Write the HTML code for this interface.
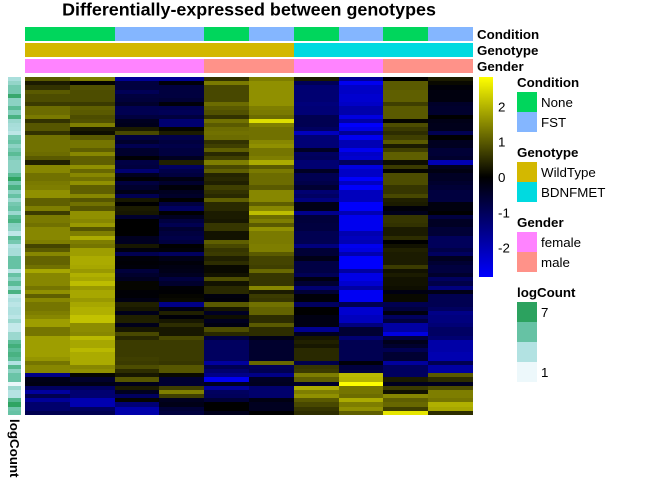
<!DOCTYPE html>
<html><head><meta charset="utf-8"><title>Differentially-expressed between genotypes</title>
<style>
html,body{margin:0;padding:0;background:#fff;width:672px;height:480px;overflow:hidden}
svg{display:block}
text{font-family:"Liberation Sans",sans-serif;font-size:13.33px;fill:#000}
.b{font-weight:bold}
</style></head>
<body>
<svg id="chart" width="672" height="480" viewBox="0 0 672 480" xmlns="http://www.w3.org/2000/svg">
<defs><linearGradient id="cg" x1="0" y1="0" x2="0" y2="1"><stop offset="0" stop-color="#ffff00"/><stop offset=".5" stop-color="#000"/><stop offset="1" stop-color="#0000ff"/></linearGradient></defs>
<text class="b" x="249" y="15.5" text-anchor="middle" style="font-size:17.9px">Differentially-expressed between genotypes</text>
<g id="annotations"></g>
<text class="b" x="477" y="39">Condition</text>
<text class="b" x="477" y="55">Genotype</text>
<text class="b" x="477" y="71">Gender</text>
<g id="logstrip"></g>
<g id="cells" shape-rendering="crispEdges"></g>
<text class="b" transform="translate(10,419) rotate(90)" x="0" y="0">logCount</text>
<rect x="479" y="77" width="14" height="200" fill="url(#cg)"/>
<g id="cbticks"></g>
<g>
<text class="b" x="517" y="87">Condition</text>
<rect x="517" y="92" width="20" height="20" fill="#00d65c"/>
<rect x="517" y="112" width="20" height="20" fill="#84b6ff"/>
<text x="541" y="107">None</text>
<text x="541" y="127">FST</text>
</g>
<g>
<text class="b" x="517" y="157">Genotype</text>
<rect x="517" y="162" width="20" height="20" fill="#d3b800"/>
<rect x="517" y="182" width="20" height="20" fill="#00dae0"/>
<text x="541" y="177">WildType</text>
<text x="541" y="197">BDNFMET</text>
</g>
<g>
<text class="b" x="517" y="227">Gender</text>
<rect x="517" y="232" width="20" height="20" fill="#ff83ff"/>
<rect x="517" y="252" width="20" height="20" fill="#ff9289"/>
<text x="541" y="247">female</text>
<text x="541" y="267">male</text>
</g>
<g>
<text class="b" x="517" y="297">logCount</text>
<rect x="517" y="302" width="20" height="20" fill="#2ca25f"/>
<rect x="517" y="322" width="20" height="20" fill="#66c2a4"/>
<rect x="517" y="342" width="20" height="20" fill="#b2e2e2"/>
<rect x="517" y="362" width="20" height="20" fill="#edf8fb"/>
<text x="541" y="317">7</text>
<text x="541" y="377">1</text>
</g>
</svg>
<script>
const conditions = ['None','None','FST','FST','None','FST','None','FST','None','FST'];
const genotypes = ['WildType','WildType','WildType','WildType','WildType','WildType','BDNFMET','BDNFMET','BDNFMET','BDNFMET'];
const genders = ['female','female','female','female','male','male','female','female','male','male'];
const colorbarTicks = [2,1,0,-1,-2];
const sample1 = [1.0,.3,.55,1.0,.85,.85,.65,1.2,1.2,1.35,
.55,.95,.95,.55,1.25,1.25,1.25,1.25,1.2,1.0,
.35,1.5,1.5,1.25,1.25,1.35,1.4,1.6,1.6,1.05,
1.05,1.4,.65,1.35,1.35,1.25,1.5,1.5,1.5,1.4,
.75,1.0,1.5,1.1,1.1,1.25,1.85,1.5,1.5,1.5,
1.3,1.6,1.05,1.5,1.3,1.3,1.4,1.5,1.75,1.75,
1.3,1.3,1.75,1.75,1.75,1.75,1.75,1.65,1.3,1.5,
1.5,-1.5,-.25,-.2,-1.05,-1.75,-.9,-1.7,-1.2,-1.2,-.9];
const sample2 = [1.4,.05,.9,.85,.85,.85,.65,1.05,1.0,.85,
.9,1.4,.3,.15,1.0,1.3,1.3,1.05,1.5,1.05,
1.05,1.6,1.15,1.5,1.25,1.6,1.05,1.05,1.5,.95,
1.25,.95,1.6,1.6,1.5,1.7,.95,1.4,1.9,1.4,
1.3,1.75,1.75,1.9,1.9,1.85,1.7,1.95,1.85,2.1,
1.7,1.85,1.85,1.7,1.85,1.95,1.95,2.15,2.15,1.55,
1.55,1.5,2.05,1.85,1.85,2.05,1.9,1.9,1.9,1.5,
1.6,.05,-.5,-.25,-1.05,-1.25,-1.25,-1.95,-1.95,-1.05,-.9];
const sample3 = [-1.65,-.7,-.7,-.95,-.7,-.65,-.5,-.9,-.9,-.7,
-.35,-.3,.3,.8,-.7,-.5,-.9,-.5,-.5,-.05,
-.75,-.7,-1.25,-.35,-.05,-.7,-.5,-.25,-.9,.25,
0,.3,.25,-.5,0,0,0,0,-.35,-.35,
.25,-.15,-.9,-.1,-.05,-.1,-.65,-.5,-.35,.05,
.05,-.05,-.05,-.2,.35,.25,-.3,.35,.35,-.3,
.25,.8,.45,.65,.65,.65,.65,.7,.65,.85,
.5,.25,.95,-.3,.3,-.35,-1.05,.05,-1.3,-1.9,-1.9];
const sample4 = [-1.65,-.1,-.7,-.7,-.7,-.6,-.1,-.9,-.95,-.7,
-1.25,-1.25,.05,.3,-.8,-.7,-.8,-.7,-.7,-.35,
.35,-1.05,-.8,-.7,-.2,-.5,-.1,-.35,-.45,0,
-.7,-1.05,0,-.35,-.7,-.9,-.55,-.7,-.8,-.7,
0,-.1,-1.05,-.25,-.1,-.2,-.25,-.35,-.7,-.5,
-.05,-.03,.05,.1,-1.5,-.2,.35,-.1,.25,.5,
.25,.25,.8,.65,.65,.65,.65,.65,.6,.95,
.95,.1,-.55,-.55,.7,1.4,.7,-.35,-.25,-.6,-.7];
const sample5 = [.55,1.35,.8,.8,.8,.8,1.2,1.0,.9,.55,
1.25,1.0,1.2,1.25,1.2,.55,.7,1.05,.45,.7,
1.4,.8,1.05,.4,.45,.35,.7,.55,.45,1.05,
.45,.45,.3,.3,.25,.6,.6,.2,.2,1.05,
.8,.6,.65,.35,.5,.1,.1,.2,.85,.2,
.45,.45,-.15,-.1,1.0,.25,-.4,.15,-.35,-.2,
.85,.45,-.7,-1.05,-1.05,-1.05,-1.05,-1.05,-1.75,-.9,
-1.2,-1.5,-2.65,-.35,-1.75,-1.05,-1.0,-.6,0,0,-.3];
const sample6 = [1.4,1.6,1.6,1.6,1.6,1.6,1.6,1.4,1.35,1.2,
2.45,1.4,1.25,1.25,1.25,1.5,1.6,1.3,1.3,1.4,
1.9,1.0,1.35,1.2,1.2,1.2,1.0,1.5,1.5,1.5,
1.05,1.5,2.1,1.2,1.4,1.0,1.6,1.35,1.35,1.35,
1.4,1.4,1.0,.75,.75,.7,1.15,.6,.6,.6,
1.5,.3,.65,.6,1.25,1.1,1.1,.5,.5,1.0,
.5,.5,-.25,-.5,-.5,-.5,-.5,-.5,1.15,-.95,
-.9,-1.5,-.4,-.35,-1.2,-1.2,-1.2,-.2,-.35,-.35,0];
const sample7 = [.3,-.95,-1.25,-1.25,-1.25,-1.25,-1.35,-1.3,-1.3,-.9,
-.9,-.9,-1.05,-2.1,-1.3,-1.3,-1.3,-.4,-1.05,-1.0,
-1.25,-1.25,-.4,-.9,-.9,-.8,-.55,-1.25,-1.1,-1.4,
-.25,-.25,-1.55,-.65,-.65,-.7,-.7,-.9,-.9,-.9,
-1.4,-.6,-.6,-.25,-.75,-.75,-.75,-.95,-.2,-.55,
-1.25,-.6,-.1,-.1,-1.05,0,0,-.2,-.2,-.2,
-1.6,-.35,.25,.35,.25,.45,.45,.45,-.85,.6,
.65,1.4,1.05,-.5,1.9,1.4,1.6,1.0,.8,.6,.5];
const sample8 = [-1.65,-2.65,-2.2,-2.2,-2.3,-2.3,-2.2,-1.9,-1.9,-2.5,
-1.85,-2.8,-2.55,-1.65,-2.65,-2.0,-2.0,-2.65,-2.2,-2.3,
-1.05,-2.5,-2.2,-2.2,-2.8,-2.15,-2.8,-2.1,-2.1,-2.1,
-2.8,-2.8,-2.0,-2.65,-2.65,-2.65,-2.65,-1.95,-2.1,-2.0,
-2.65,-2.5,-1.95,-2.8,-2.8,-2.8,-1.8,-2.55,-2.55,-2.3,
-1.8,-2.7,-2.7,-2.7,-.9,-2.3,-2.3,-2.1,-2.1,-1.4,
-.55,-.55,-1.25,-.9,-.9,-.9,-.9,-.9,-.1,-.7,
-.7,2.05,2.0,2.8,1.3,1.3,1.2,1.9,1.4,1.6,1.05];
const sample9 = [0,1.0,1.0,1.05,1.05,1.05,.7,1.0,1.0,1.0,
.05,.85,.65,.5,.7,1.0,.3,.7,1.05,1.05,
.15,.65,.05,.85,.85,.85,.6,.6,.8,.35,
.3,-.1,-.3,.6,.6,.55,.3,.3,.5,0,
.2,.35,.3,.3,.3,.65,.2,.3,.2,.2,
.15,-.2,.1,.1,-.9,-.7,-.15,-1.05,-.7,-1.8,
-1.8,-2.5,-.7,-.3,-.5,-.9,-.55,-.55,-1.75,-1.05,
-1.05,-1.05,.3,-.35,.65,.2,1.5,1.05,1.15,.7,2.55];
const sample10 = [.3,.1,-.1,-.15,-.15,-.15,-.45,-.5,-.5,0,
-.25,-.3,-.3,-.9,0,-.35,-.35,-.6,-.6,-.5,
-2.0,-.35,-.2,-.4,-.4,-.5,-.6,-.7,-.7,-.7,
-.15,-.15,0,-.7,-.4,-.4,-.6,-.6,-1.0,-1.0,
-1.0,-.8,-1.05,-.35,-.55,-.7,-.7,-.5,-1.05,-.8,
-1.4,-.25,-.9,-.9,-.9,-1.05,-1.5,-1.4,-1.4,-1.3,
-1.1,-1.1,-1.25,-1.85,-1.85,-1.85,-1.95,-1.95,-.9,-1.8,
-1.8,1.0,.5,-.35,.85,1.4,1.4,1.3,1.95,1.85,.5];
const logCounts = [3.2,3.8,4.6,4.6,6.6,4,4,5.4,4.2,6,
3.6,3.3,3.2,2.6,4.6,5,4,4.6,5.4,4.4,
4,4,4,5.4,6.9,4.6,6,4,5,3.6,
4.6,5,3.6,5.4,6,4.1,4,2.6,5.4,4.6,
3,3.3,3.3,5,5,5,2.7,5,4.1,5.4,
3.6,6,2.5,3.1,2.7,3.1,3.1,2.7,3.6,2.4,
2.4,3.6,3.6,5.4,6.2,5.4,6,5.4,3,5.6,
4,4.9,4.9,1.1,3.6,2.9,2.9,5.6,6.9,4.8,5];

const samples = [sample1,sample2,sample3,sample4,sample5,sample6,sample7,sample8,sample9,sample10];
const NS = 'http://www.w3.org/2000/svg';
const heatLeft = 25, heatRight = 473, heatTop = 77, heatBottom = 415, zMax = 2.83;
const rowCount = logCounts.length;
const xScale = c => heatLeft + (heatRight - heatLeft) * c / samples.length;
const yScale = r => heatTop + (heatBottom - heatTop) * r / rowCount;
const cbY = v => 177 - v * (200 / (2 * zMax));
function heatColor(v){
  const t = Math.min(1, Math.abs(v) / zMax), b = Math.round(t * 255);
  return v >= 0 ? `rgb(${b},${b},0)` : `rgb(0,0,${b})`;
}
const bugnStops = [[237,248,251],[178,226,226],[102,194,164],[44,162,95]];
function logColor(v){
  const p = Math.max(0, Math.min(2.999, (v - 1) / 2)), i = Math.floor(p), f = p - i;
  const a = bugnStops[i], b = bugnStops[i + 1];
  return `rgb(${a.map((x, k) => Math.round(x + (b[k] - x) * f)).join(',')})`;
}
function rect(parent, x0, y0, x1, y1, fill){
  const el = document.createElementNS(NS, 'rect');
  el.setAttribute('x', Math.round(x0));
  el.setAttribute('y', Math.round(y0));
  el.setAttribute('width', Math.round(x1) - Math.round(x0));
  el.setAttribute('height', Math.round(y1) - Math.round(y0));
  el.setAttribute('fill', fill);
  parent.appendChild(el);
  return el;
}
const cellsG = document.getElementById('cells');
samples.forEach((col, c) => col.forEach((v, r) => {
  const el = rect(cellsG, xScale(c), yScale(r), xScale(c + 1), yScale(r + 1), heatColor(v));
  
  
}));
const stripG = document.getElementById('logstrip');
logCounts.forEach((v, r) => {
  const el = rect(stripG, 8, yScale(r), 21, yScale(r + 1), logColor(v));
  
  
});
const annColors = {None:'#00d65c',FST:'#84b6ff',WildType:'#d3b800',BDNFMET:'#00dae0',female:'#ff83ff',male:'#ff9289'};
const annG = document.getElementById('annotations');
[[conditions,27],[genotypes,43],[genders,59]].forEach(([track, top]) => {
  track.forEach((lab, c) => {
    const el = rect(annG, xScale(c), top, xScale(c + 1), top + 14, annColors[lab]);
    
    
  });
});
const tickG = document.getElementById('cbticks');
colorbarTicks.forEach(v => {
  const el = document.createElementNS(NS, 'text');
  el.setAttribute('x', 498);
  el.setAttribute('y', cbY(v) + 5);
  el.textContent = String(v);
  
  
  tickG.appendChild(el);
});
</script>
</body></html>
